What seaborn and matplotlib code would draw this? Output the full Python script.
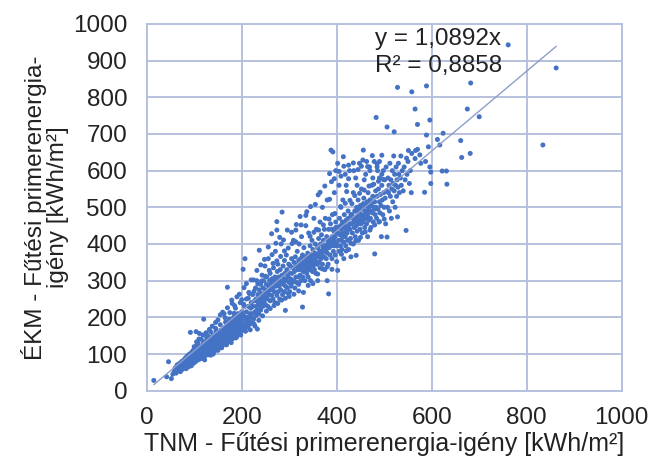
import matplotlib
matplotlib.use("Agg")
import matplotlib.pyplot as plt
import seaborn as sns
import pandas as pd

# ---- data (TNM, EKM), grouped by TNM range ----
pts_low = [(15,28),(42,38),(46,79),(52,33),(55,45),(58,52),(60,62),(62,48),(64,70),(66,55),(68,60),(70,75),
           (71,52),(72,66),(74,80),(75,58),(76,70),(78,62),(79,85),(80,72),(81,66),(82,90),(83,60),(84,78),
           (85,70),(86,95),(87,82),(88,65),(89,75),(90,88),(90,100),(91,72),(92,159),(92,80),(93,92),(94,68),
           (95,85),(95,105),(96,78),(97,95),(98,88),(98,110),(99,75),(100,98),(100,120),(101,86),(102,92),
           (103,104),(104,80),(104,161),(105,115),(106,95),(107,88),(108,130),(108,102),(109,92),(110,108),
           (110,85),(111,120),(111,156),(112,98),(113,112),(114,90),(115,140),(115,105),(116,95),(117,118),
           (118,100),(119,128),(120,110),(120,92),(120,195)]
pts_low_core = [(62,58),(65,64),(67,72),(69,62),(73,70),(75,78),(77,66),(79,74),(80,82),(82,76),(84,88),(85,80),
                (87,74),(88,90),(90,80),(91,94),(93,86),(94,100),(96,90),(97,82),(99,96),(100,88),(102,108),
                (103,96),(105,100),(106,112),(108,95),(109,118),(111,104),(112,115),(114,108),(116,122),
                (117,106),(119,115),(121,132),(123,118),(124,128),(126,110),(128,125),(129,138),(131,120),
                (133,132),(134,145),(136,125),(138,135),(139,148),(141,130),(143,145),(144,125),(146,155),
                (148,140),(150,150),(151,135),(153,158),(154,142),(156,165),(158,148),(159,138),(161,160),
                (163,152),(165,170),(166,145),(168,162),(170,175),(171,158),(173,185),(175,168),(177,190),
                (178,160),(180,172),(182,190),(184,178),(186,195),(188,182),(190,200),(192,188),(194,205),
                (196,176),(198,190),(200,205)]
pts_b = [(121,100),(122,125),(123,110),(124,96),(125,135),(126,118),(127,105),(128,150),(129,112),(130,98),
         (130,128),(131,140),(132,115),(133,122),(134,105),(135,160),(135,132),(136,118),(137,110),(138,142),
         (139,125),(140,100),(140,135),(141,150),(142,120),(143,112),(144,138),(145,170),(145,128),(146,145),
         (147,118),(148,132),(149,155),(150,110),(150,140),(151,125),(152,162),(153,135),(154,118),(155,148),
         (155,180),(156,130),(157,142),(158,122),(159,155),(160,138),(160,165),(161,128),(162,150),(163,210),
         (163,140),(164,172),(165,132),(166,155),(167,145),(168,125),(168,185),(169,160),(170,140),(170,282),
         (171,152),(172,168),(172,146),(173,135),(174,195),(175,158),(175,145),(176,175),(177,150),(178,140),
         (179,247),(179,165),(180,185),(180,155),(181,142),(182,172),(183,200),(184,160),(185,150),(185,180),
         (186,168),(187,225),(188,158),(189,190),(190,175),(190,148),(191,165),(192,210),(193,182),(194,155),
         (195,195),(195,170),(196,185),(197,240),(198,162),(199,200),(200,178),(200,215),(201,190),(202,165),
         (203,331),(204,205),(205,180),(206,230),(207,360),(208,195),(209,172),(210,215),(210,250),(211,185),
         (212,200),(213,175),(214,230),(215,190),(216,265),(217,210),(218,182),(219,225),(220,200),(220,240)]
pts_b_spread = [(105,133),(110,141),(115,88),(118,152),(122,84),(125,158),(128,101),(132,167),(135,97),
                (138,176),(142,106),(145,186),(148,113),(150,193),(152,121),(155,207),(158,117),(160,214),
                (162,126),(165,199),(167,129),(170,226),(172,136),(175,213),(178,131),(180,238),(182,151),
                (185,232),(188,144),(190,256),(192,161),(195,263),(198,152),(200,248),(203,171),(205,281),
                (208,162),(210,292),(212,176),(215,268),(218,166),(220,302),(106,124),(126,146),(146,161),
                (166,187),(184,211),(204,236),(214,252)]
pts_c = [(221,210),(222,185),(223,262),(224,230),(225,195),(226,182),(227,245),(228,215),(229,280),(230,205),
         (230,250),(231,230),(232,300),(233,168),(233,220),(234,262),(235,240),(236,210),(237,383),(237,275),
         (238,232),(239,250),(240,220),(240,290),(241,265),(242,240),(243,315),(244,255),(245,230),(245,280),
         (246,300),(247,245),(248,265),(249,340),(250,235),(250,275),(251,255),(252,290),(253,310),(254,250),
         (255,270),(255,230),(256,360),(257,285),(258,262),(259,300),(260,245),(260,320),(261,275),(262,290),
         (263,428),(263,260),(264,305),(265,280),(266,250),(267,335),(268,295),(269,270),(270,310),(270,240),
         (271,380),(272,285),(273,300),(274,260),(274,461),(274,438),(275,325),(275,290),(276,345),(277,270),
         (278,310),(279,285),(280,250),(280,300),(281,330),(282,275),(283,400),(284,295),(285,487),(285,315),
         (286,262),(287,340),(288,290),(289,305),(290,270),(290,355),(291,320),(292,219),(292,285),(293,300),
         (294,370),(295,330),(296,280),(297,310),(298,265),(299,345),(300,295),(300,320)]
pts_c_spread = [(225,302),(228,176),(232,328),(236,192),(240,343),(244,204),(248,358),(252,217),(256,392),
                (260,224),(264,371),(268,232),(272,402),(276,238),(280,418),(284,247),(288,411),(292,252),
                (296,438),(300,257),(305,432),(310,263),(315,453),(320,272),(226,271),(234,291),(242,299),
                (250,312),(258,328),(266,347),(274,354),(282,366),(290,381),(298,389),(306,401),(314,406)]
pts_d = [(301,270),(302,340),(303,305),(304,285),(305,360),(306,320),(307,295),(308,335),(309,410),(310,300),
         (310,350),(311,325),(312,280),(313,365),(314,438),(314,310),(315,340),(316,295),(317,380),(318,330),
         (319,310),(320,355),(320,290),(321,400),(322,335),(323,475),(323,315),(324,360),(325,300),(325,345),
         (326,420),(327,330),(328,228),(328,370),(329,310),(330,350),(330,325),(331,390),(332,340),(333,300),
         (334,365),(335,330),(335,450),(336,355),(337,488),(337,320),(338,345),(339,375),(340,310),(340,340),
         (341,430),(342,360),(343,330),(344,395),(345,350),(345,300),(346,370),(347,340),(348,410),(349,325),
         (350,360),(350,385),(351,345),(352,470),(353,330),(354,375),(355,355),(355,400),(356,320),(357,440),
         (358,365),(359,345),(360,390),(360,300),(361,534),(361,370),(362,415),(363,350),(364,380),(365,460),
         (365,335),(366,400),(367,360),(368,425),(369,375),(370,345),(370,500),(371,390),(372,410),(373,365),
         (374,440),(375,380),(375,330),(376,470),(377,395),(378,360),(379,420),(380,375),(380,520),(380,300),
         (381,400),(382,345),(383,264),(383,440),(384,390),(385,592),(385,410),(386,370),(387,455),(388,656),
         (388,395),(389,570),(390,420),(390,360),(391,480),(392,651),(392,405),(393,380),(394,435),(395,395),
         (395,540),(396,420),(397,370),(398,460),(399,400),(400,430)]
pts_d_core = [(318,345),(322,350),(324,330),(326,345),(328,355),(330,338),(332,360),(334,345),(336,335),
              (338,362),(340,350),(342,338),(344,360),(346,348),(348,365),(350,340),(352,355),(354,345),
              (356,372),(358,350),(362,365),(366,380),(370,365),(374,395),(378,385),(382,410),(386,398),
              (390,440),(394,410),(398,445),(398,600),(402,620),(409,585)]
pts_d_spread = [(325,452),(330,268),(335,478),(340,287),(345,502),(350,292),(355,508),(360,318),(365,541),
                (370,332),(375,558),(380,338),(385,522),(390,331),(395,578),(344,421),(352,432),(362,438),
                (372,452),(384,468),(396,483)]
pts_e = [(401,395),(402,328),(403,445),(404,410),(405,380),(406,470),(407,425),(408,395),(409,500),(410,440),
         (410,410),(411,385),(412,460),(413,520),(414,638),(414,430),(415,360),(415,405),(416,480),(417,445),
         (418,420),(419,395),(420,560),(420,465),(421,543),(422,430),(423,410),(424,490),(425,450),(425,385),
         (426,470),(427,600),(428,440),(429,415),(430,365),(430,480),(431,455),(432,510),(433,430),(434,470),
         (435,400),(435,540),(436,460),(437,445),(438,490),(439,420),(440,470),(440,580),(441,369),(441,450),
         (442,500),(443,435),(444,475),(445,520),(445,455),(446,410),(447,490),(448,620),(448,465),(449,440),
         (450,480),(450,505),(451,455),(452,550),(453,470),(454,430),(455,495),(456,656),(456,460),(457,525),
         (458,480),(459,445),(460,505),(460,470),(461,590),(462,490),(463,455),(464,515),(465,480),(465,420),
         (466,540),(467,500),(468,465),(469,610),(470,490),(470,520),(471,470),(472,445),(473,505),(474,560),
         (475,485),(476,530),(477,460),(478,500),(479,625),(480,373),(480,515),(481,480),(482,545),(483,745),
         (483,500),(484,470),(485,530),(486,600),(487,495),(488,550),(489,460),(490,515),(490,580),(491,485),
         (492,535),(493,505),(494,420),(495,560),(496,520),(497,480),(498,600),(499,540),(500,500)]
pts_e_core = [(404,430),(408,450),(412,420),(416,455),(420,440),(424,470),(428,455),(432,480),(436,470),
              (440,490),(444,465),(448,500),(452,480),(456,510),(460,490),(464,470),(468,510),(472,490),
              (476,515),(480,495),(405,560),(418,590),(425,615),(436,600),(443,560),(452,612),(458,575),
              (463,625),(470,600),(476,580),(485,610),(490,625),(495,590)]
pts_e_spread = [(400,352),(405,598),(410,372),(415,612),(420,381),(425,578),(430,402),(435,621),(440,409),
                (445,603),(450,418),(455,629),(460,433),(465,611),(470,438),(475,641),(480,452),(485,618),
                (490,461),(495,642),(500,468),(408,502),(418,511),(428,519),(438,532),(448,538),(458,547),
                (468,558),(478,563),(488,571),(498,576)]
pts_f = [(501,575),(502,525),(503,455),(504,610),(505,545),(506,419),(506,719),(507,500),(508,580),(509,540),
         (510,560),(511,490),(512,620),(513,530),(514,575),(515,470),(516,550),(517,600),(518,515),(519,565),
         (520,640),(521,706),(521,545),(522,590),(523,500),(524,560),(525,610),(526,530),(527,575),(528,474),
         (528,827),(529,555),(530,620),(531,590),(532,540),(534,580),(535,640),(536,560),(538,600),(540,545),
         (542,610),(544,575),(546,437),(547,634),(548,590),(550,625),(551,655),(553,565),(555,600),(557,540),
         (558,647),(558,815)]
pts_g = [(565,768),(565,633),(566,655),(570,726),(570,658),(575,643),(577,620),(585,541),(587,625),(589,831),
         (589,697),(593,665),(596,610),(596,738),(598,596),(598,565),(612,685),(617,670),(624,702),(622,599),
         (631,599),(632,563),(661,682),(663,636),(675,768),(681,647),(682,839),(700,747),(761,943),(834,670),
         (862,880)]

all_pts = (pts_low + pts_low_core + pts_b + pts_b_spread + pts_c + pts_c_spread + pts_d + pts_d_core
           + pts_d_spread + pts_e + pts_e_core + pts_e_spread + pts_f + pts_g)
tnm = [p[0] for p in all_pts]
ekm = [p[1] for p in all_pts]

slope = 1.0892
r2 = 0.8858
x_ticks = [0, 200, 400, 600, 800, 1000]
y_ticks = [0, 100, 200, 300, 400, 500, 600, 700, 800, 900, 1000]

# ---- style ----
sns.set_style("white")
plt.rcParams['font.family'] = ['Liberation Sans', 'DejaVu Sans']

grid_c = '#B7C1DF'
pt_c = '#4472C4'
txt_c = '#222222'
fs = 17.5

fig = plt.figure(figsize=(6.49, 4.66), dpi=100)
ax = fig.add_axes([0.226, 0.1616, 0.732, 0.787])

df = pd.DataFrame({'TNM': tnm, 'EKM': ekm})
sns.scatterplot(data=df, x='TNM', y='EKM', ax=ax, s=13, color=pt_c, edgecolor='none', linewidth=0, zorder=3)

# trend line through origin, from min to max TNM
line_x = [min(tnm), max(tnm)]
line_df = pd.DataFrame({'x': line_x, 'y': [slope * v for v in line_x]})
sns.lineplot(data=line_df, x='x', y='y', ax=ax, color='#8E9ECC', linewidth=1.0, zorder=4)

ax.set_xlim(0, 1000)
ax.set_ylim(0, 1000)
ax.set_xticks(x_ticks)
ax.set_yticks(y_ticks)
ax.grid(True, color=grid_c, linewidth=1.4)
ax.set_axisbelow(True)
for sp in ax.spines.values():
    sp.set_color(grid_c)
    sp.set_linewidth(1.4)
ax.tick_params(axis='both', length=0, labelsize=fs, colors=txt_c)
ax.tick_params(axis='x', pad=12)
ax.tick_params(axis='y', pad=14)

ax.set_xlabel('TNM - Fűtési primerenergia-igény [kWh/m²]', fontsize=18, color=txt_c, labelpad=2)
ax.set_ylabel('ÉKM - Fűtési primerenergia-\nigény [kWh/m²]', fontsize=fs, color=txt_c, labelpad=3,
              linespacing=1.0)

ax.text(481, 990, f'y = {str(slope).replace(".", ",")}x\nR² = {str(r2).replace(".", ",")}',
        fontsize=fs, color=txt_c, va='top', ha='left', linespacing=1.3, zorder=5)

fig.savefig('out.png', dpi=100)
